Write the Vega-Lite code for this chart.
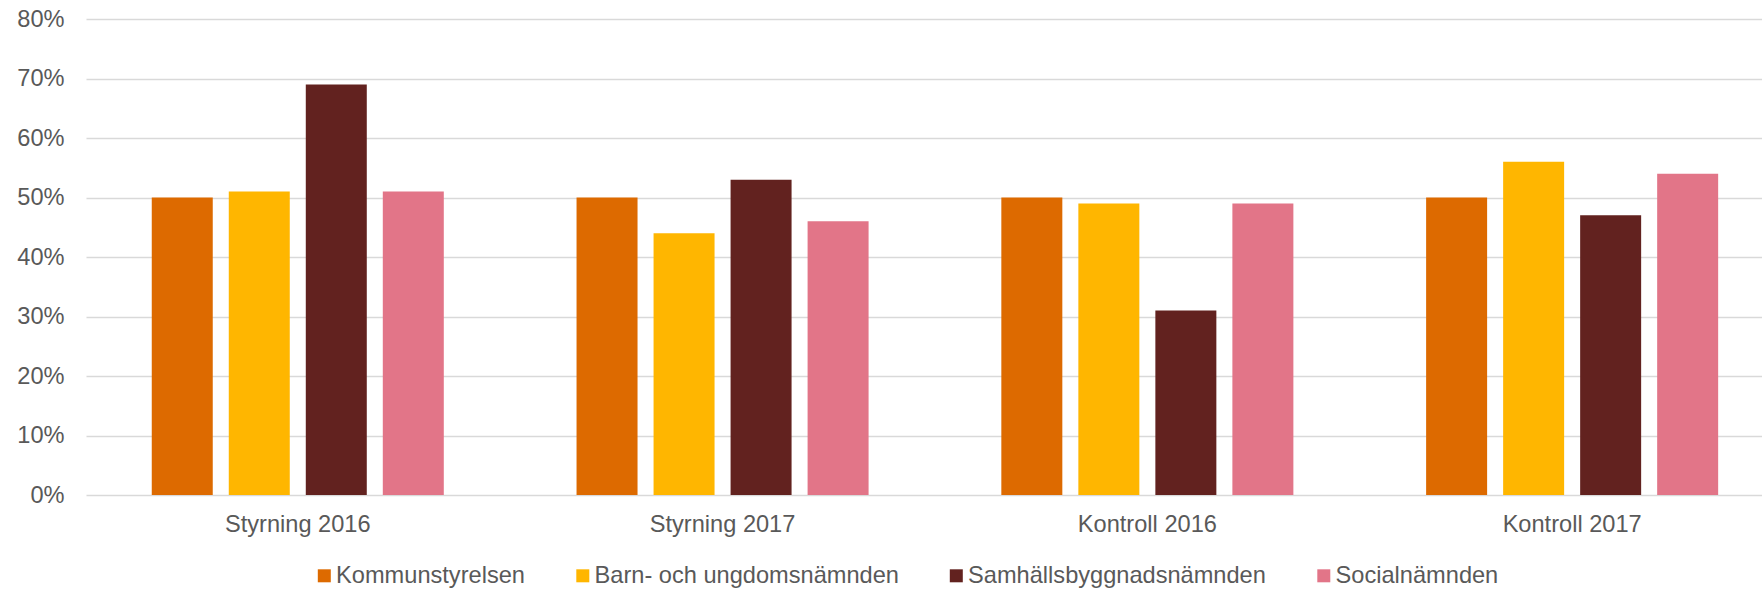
{
  "$schema": "https://vega.github.io/schema/vega-lite/v6.json",
  "width": 1676,
  "height": 476,
  "autosize": "none",
  "padding": {"left": 86, "top": 19, "right": 0, "bottom": 94},
  "background": "white",
  "config": {
    "view": {"stroke": null},
    "font": "Liberation Sans",
    "axis": {"labelFont": "Liberation Sans", "labelColor": "#595959", "labelFontSize": 23.6, "title": null}
  },
  "data": {
    "values": [
      {"kategori": "Styrning 2016", "namnd": "Kommunstyrelsen", "andel": 0.50},
      {"kategori": "Styrning 2016", "namnd": "Barn- och ungdomsnämnden", "andel": 0.51},
      {"kategori": "Styrning 2016", "namnd": "Samhällsbyggnadsnämnden", "andel": 0.69},
      {"kategori": "Styrning 2016", "namnd": "Socialnämnden", "andel": 0.51},
      {"kategori": "Styrning 2017", "namnd": "Kommunstyrelsen", "andel": 0.50},
      {"kategori": "Styrning 2017", "namnd": "Barn- och ungdomsnämnden", "andel": 0.44},
      {"kategori": "Styrning 2017", "namnd": "Samhällsbyggnadsnämnden", "andel": 0.53},
      {"kategori": "Styrning 2017", "namnd": "Socialnämnden", "andel": 0.46},
      {"kategori": "Kontroll 2016", "namnd": "Kommunstyrelsen", "andel": 0.50},
      {"kategori": "Kontroll 2016", "namnd": "Barn- och ungdomsnämnden", "andel": 0.49},
      {"kategori": "Kontroll 2016", "namnd": "Samhällsbyggnadsnämnden", "andel": 0.31},
      {"kategori": "Kontroll 2016", "namnd": "Socialnämnden", "andel": 0.49},
      {"kategori": "Kontroll 2017", "namnd": "Kommunstyrelsen", "andel": 0.50},
      {"kategori": "Kontroll 2017", "namnd": "Barn- och ungdomsnämnden", "andel": 0.56},
      {"kategori": "Kontroll 2017", "namnd": "Samhällsbyggnadsnämnden", "andel": 0.47},
      {"kategori": "Kontroll 2017", "namnd": "Socialnämnden", "andel": 0.54}
    ]
  },
  "mark": {"type": "bar"},
  "encoding": {
    "x": {
      "field": "kategori",
      "type": "nominal",
      "sort": ["Styrning 2016", "Styrning 2017", "Kontroll 2016", "Kontroll 2017"],
      "scale": {"paddingInner": 0.3125, "paddingOuter": 0.129, "align": 0.6},
      "axis": {"labelAngle": 0, "ticks": false, "tickSize": 0, "domain": false, "labelPadding": 17.5, "grid": false}
    },
    "xOffset": {
      "field": "namnd",
      "type": "nominal",
      "sort": ["Kommunstyrelsen", "Barn- och ungdomsnämnden", "Samhällsbyggnadsnämnden", "Socialnämnden"],
      "scale": {"paddingInner": 0.208, "paddingOuter": 0}
    },
    "y": {
      "field": "andel",
      "type": "quantitative",
      "scale": {"domain": [0, 0.8], "nice": false},
      "axis": {
        "values": [0, 0.1, 0.2, 0.3, 0.4, 0.5, 0.6, 0.7, 0.8],
        "format": ".0%",
        "ticks": false,
        "tickSize": 0,
        "domain": false,
        "labelPadding": 22,
        "grid": true,
        "gridColor": "#D9D9D9",
        "gridWidth": 1.3
      }
    },
    "color": {
      "field": "namnd",
      "type": "nominal",
      "sort": ["Kommunstyrelsen", "Barn- och ungdomsnämnden", "Samhällsbyggnadsnämnden", "Socialnämnden"],
      "scale": {
        "domain": ["Kommunstyrelsen", "Barn- och ungdomsnämnden", "Samhällsbyggnadsnämnden", "Socialnämnden"],
        "range": ["#DD6A00", "#FFB600", "#62221F", "#E27588"]
      },
      "legend": {
        "title": null,
        "orient": "none",
        "legendX": 226.5,
        "legendY": 544.7,
        "direction": "horizontal",
        "columns": 4,
        "gridAlign": "each",
        "columnPadding": 45.5,
        "padding": 0,
        "symbolType": "square",
        "symbolSize": 169,
        "symbolStrokeWidth": 0,
        "labelOffset": 0,
        "labelFont": "Liberation Sans",
        "labelFontSize": 23.6,
        "labelColor": "#595959",
        "labelLimit": 500
      }
    }
  }
}
